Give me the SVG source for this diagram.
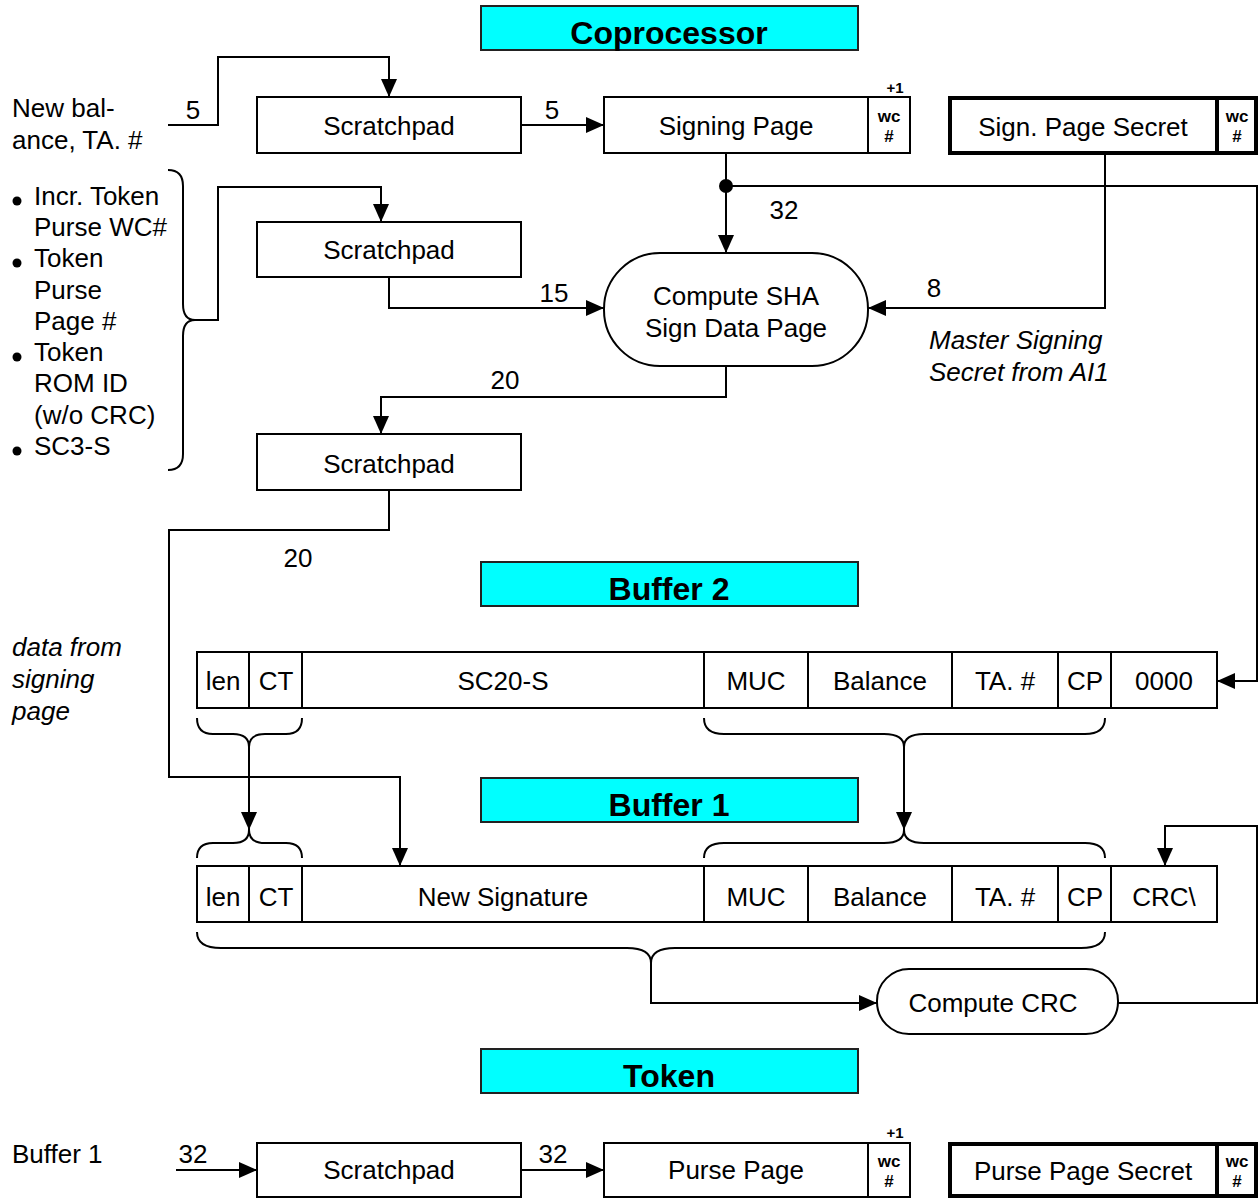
<svg xmlns="http://www.w3.org/2000/svg" width="1259" height="1198" viewBox="0 0 1259 1198">
  <style>
    text { font-family: "Liberation Sans", Arial, sans-serif; fill: #000; }
    .t { font-size: 26px; }
    .c { text-anchor: middle; }
    .i { font-style: italic; }
    .title { font-size: 32px; font-weight: bold; text-anchor: middle; }
    .small { font-size: 17px; font-weight: bold; text-anchor: middle; }
    .plus { font-size: 15px; font-weight: bold; text-anchor: middle; }
    .box { fill: #fff; stroke: #000; stroke-width: 2; }
    .thick { fill: #fff; stroke: #000; stroke-width: 4; }
    .banner { fill: #00ffff; stroke: #222; stroke-width: 2; }
    .wire { fill: none; stroke: #000; stroke-width: 2; }
    .arr { marker-end: url(#ah); }
  </style>
  <defs>
    <marker id="ah" markerUnits="userSpaceOnUse" markerWidth="18" markerHeight="16" viewBox="0 0 18 16" refX="18" refY="8" orient="auto">
      <path d="M0,0 L18,8 L0,16 z" fill="#000"/>
    </marker>
  </defs>

  <rect width="1259" height="1198" fill="#fff"/>

  <!-- section banners -->
  <g id="banner-coprocessor">
    <rect class="banner" x="481" y="6" width="377" height="44"/>
    <text class="title" x="669" y="44">Coprocessor</text>
  </g>
  <g id="banner-buffer2">
    <rect class="banner" x="481" y="562" width="377" height="44"/>
    <text class="title" x="669" y="600">Buffer 2</text>
  </g>
  <g id="banner-buffer1">
    <rect class="banner" x="481" y="778" width="377" height="44"/>
    <text class="title" x="669" y="816">Buffer 1</text>
  </g>
  <g id="banner-token">
    <rect class="banner" x="481" y="1049" width="377" height="44"/>
    <text class="title" x="669" y="1087">Token</text>
  </g>

  <!-- free-standing labels -->
  <g id="label-new-balance">
    <text class="t" x="12" y="117">New bal-</text>
    <text class="t" x="12" y="149">ance, TA. #</text>
  </g>
  <g id="label-inputs">
    <circle cx="17" cy="201" r="4.5"/>
    <circle cx="17" cy="263" r="4.5"/>
    <circle cx="17" cy="357" r="4.5"/>
    <circle cx="17" cy="451" r="4.5"/>
    <text class="t" x="34" y="205">Incr. Token</text>
    <text class="t" x="34" y="236">Purse WC#</text>
    <text class="t" x="34" y="267">Token</text>
    <text class="t" x="34" y="299">Purse</text>
    <text class="t" x="34" y="330">Page #</text>
    <text class="t" x="34" y="361">Token</text>
    <text class="t" x="34" y="392">ROM ID</text>
    <text class="t" x="34" y="424">(w/o CRC)</text>
    <text class="t" x="34" y="455">SC3-S</text>
    <path class="wire" d="M168,170 Q183,170 183,186 V304 Q183,320 195,320 Q183,320 183,336 V454 Q183,470 168,470"/>
  </g>
  <g id="label-master-secret">
    <text class="t i" x="929" y="349">Master Signing</text>
    <text class="t i" x="929" y="381">Secret from AI1</text>
  </g>
  <g id="label-data-from">
    <text class="t i" x="12" y="656">data from</text>
    <text class="t i" x="12" y="688">signing</text>
    <text class="t i" x="12" y="720">page</text>
  </g>
  <g id="label-buffer1-in">
    <text class="t" x="12" y="1163">Buffer 1</text>
  </g>

  <!-- coprocessor nodes -->
  <g id="scratchpad-a">
    <rect class="box" x="257" y="97" width="264" height="56"/>
    <text class="t c" x="389" y="135">Scratchpad</text>
  </g>
  <g id="signing-page">
    <rect class="box" x="604" y="97" width="306" height="56"/>
    <line class="wire" x1="868" y1="97" x2="868" y2="153"/>
    <text class="t c" x="736" y="135">Signing Page</text>
    <text class="small" x="889" y="122">wc</text>
    <text class="small" x="889" y="142">#</text>
    <text class="plus" x="895" y="93">+1</text>
  </g>
  <g id="sign-page-secret">
    <rect class="thick" x="950" y="98" width="306" height="55"/>
    <line x1="1217" y1="98" x2="1217" y2="153" stroke="#000" stroke-width="4"/>
    <text class="t c" x="1083" y="136">Sign. Page Secret</text>
    <text class="small" x="1237" y="122">wc</text>
    <text class="small" x="1237" y="142">#</text>
  </g>
  <g id="scratchpad-b">
    <rect class="box" x="257" y="222" width="264" height="55"/>
    <text class="t c" x="389" y="259">Scratchpad</text>
  </g>
  <g id="compute-sha">
    <rect class="box" x="604" y="253" width="264" height="113" rx="56" ry="56"/>
    <text class="t c" x="736" y="305">Compute SHA</text>
    <text class="t c" x="736" y="337">Sign Data Page</text>
  </g>
  <g id="scratchpad-c">
    <rect class="box" x="257" y="434" width="264" height="56"/>
    <text class="t c" x="389" y="473">Scratchpad</text>
  </g>

  <!-- buffer 2 record -->
  <g id="buffer2-record">
    <rect class="box" x="197" y="652" width="1020" height="56"/>
    <path class="wire" d="M249,652 V708 M302,652 V708 M704,652 V708 M808,652 V708 M952,652 V708 M1058,652 V708 M1111,652 V708"/>
    <text class="t c" x="223" y="690">len</text>
    <text class="t c" x="276" y="690">CT</text>
    <text class="t c" x="503" y="690">SC20-S</text>
    <text class="t c" x="756" y="690">MUC</text>
    <text class="t c" x="880" y="690">Balance</text>
    <text class="t c" x="1005" y="690">TA. #</text>
    <text class="t c" x="1085" y="690">CP</text>
    <text class="t c" x="1164" y="690">0000</text>
  </g>

  <!-- buffer 1 record -->
  <g id="buffer1-record">
    <rect class="box" x="197" y="866" width="1020" height="56"/>
    <path class="wire" d="M249,866 V922 M302,866 V922 M704,866 V922 M808,866 V922 M952,866 V922 M1058,866 V922 M1111,866 V922"/>
    <text class="t c" x="223" y="906">len</text>
    <text class="t c" x="276" y="906">CT</text>
    <text class="t c" x="503" y="906">New Signature</text>
    <text class="t c" x="756" y="906">MUC</text>
    <text class="t c" x="880" y="906">Balance</text>
    <text class="t c" x="1005" y="906">TA. #</text>
    <text class="t c" x="1085" y="906">CP</text>
    <text class="t c" x="1164" y="906">CRC\</text>
  </g>

  <g id="compute-crc">
    <rect class="box" x="877" y="969" width="241" height="65" rx="32" ry="32"/>
    <text class="t c" x="993" y="1012">Compute CRC</text>
  </g>

  <!-- token nodes -->
  <g id="token-scratchpad">
    <rect class="box" x="257" y="1143" width="264" height="54"/>
    <text class="t c" x="389" y="1179">Scratchpad</text>
  </g>
  <g id="purse-page">
    <rect class="box" x="604" y="1143" width="306" height="54"/>
    <line class="wire" x1="868" y1="1143" x2="868" y2="1197"/>
    <text class="t c" x="736" y="1179">Purse Page</text>
    <text class="small" x="889" y="1167">wc</text>
    <text class="small" x="889" y="1187">#</text>
    <text class="plus" x="895" y="1138">+1</text>
  </g>
  <g id="purse-page-secret">
    <rect class="thick" x="950" y="1144" width="306" height="52"/>
    <line x1="1217" y1="1144" x2="1217" y2="1196" stroke="#000" stroke-width="4"/>
    <text class="t c" x="1083" y="1180">Purse Page Secret</text>
    <text class="small" x="1237" y="1167">wc</text>
    <text class="small" x="1237" y="1187">#</text>
  </g>

  <!-- connectors, braces and byte counts -->
  <g id="connectors">
    <path class="wire arr" d="M168,125 H218 V57 H389 V97"/>
    <path class="wire arr" d="M521,125 H604"/>
    <path class="wire arr" d="M726,153 V253"/>
    <circle cx="726" cy="186" r="7" fill="#000"/>
    <path class="wire arr" d="M726,186 H1257 V681 H1217"/>
    <path class="wire arr" d="M1105,153 V308 H868"/>
    <path class="wire arr" d="M195,320 H218 V187 H381 V222"/>
    <path class="wire arr" d="M389,277 V308 H604"/>
    <path class="wire arr" d="M726,366 V397 H381 V434"/>
    <path class="wire arr" d="M389,490 V530 H169 V777 H400 V866"/>

    <!-- braces below buffer 2 -->
    <path class="wire" d="M197,718 Q197,734 213,734 H233 Q249,734 249,747 Q249,734 265,734 H286 Q302,734 302,718"/>
    <path class="wire" d="M704,718 Q704,734 724,734 H884 Q904,734 904,747 Q904,734 924,734 H1085 Q1105,734 1105,718"/>
    <path class="wire arr" d="M249,747 V830"/>
    <path class="wire arr" d="M904,747 V830"/>

    <!-- braces above buffer 1 -->
    <path class="wire" d="M197,858 Q197,843 213,843 H233 Q249,843 249,830 Q249,843 265,843 H286 Q302,843 302,858"/>
    <path class="wire" d="M704,858 Q704,843 724,843 H884 Q904,843 904,830 Q904,843 924,843 H1085 Q1105,843 1105,858"/>

    <!-- brace below buffer 1 feeding the CRC -->
    <path class="wire" d="M197,932 Q197,948 221,948 H627 Q651,948 651,963 Q651,948 675,948 H1081 Q1105,948 1105,932"/>
    <path class="wire arr" d="M651,963 V1003 H877"/>
    <path class="wire arr" d="M1118,1003 H1257 V826 H1165 V866"/>

    <path class="wire arr" d="M176,1170 H257"/>
    <path class="wire arr" d="M521,1170 H604"/>

    <text class="t c" x="193" y="119">5</text>
    <text class="t c" x="552" y="119">5</text>
    <text class="t c" x="784" y="219">32</text>
    <text class="t c" x="554" y="302">15</text>
    <text class="t c" x="934" y="297">8</text>
    <text class="t c" x="505" y="389">20</text>
    <text class="t c" x="298" y="567">20</text>
    <text class="t c" x="193" y="1163">32</text>
    <text class="t c" x="553" y="1163">32</text>
  </g>
</svg>
